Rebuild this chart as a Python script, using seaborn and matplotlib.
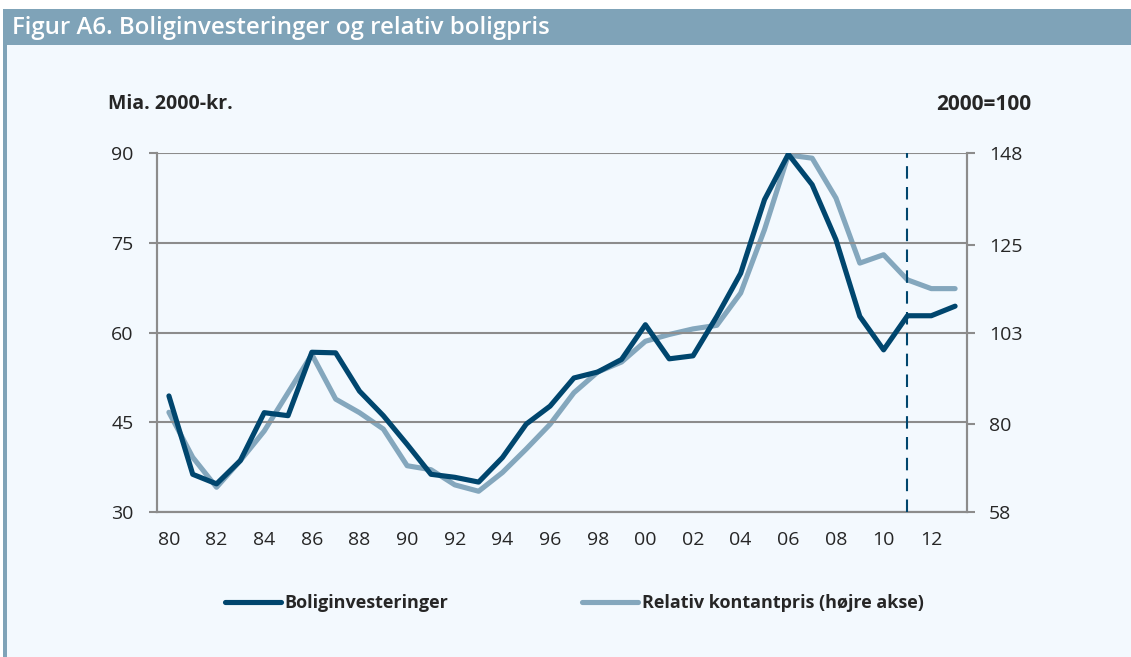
import matplotlib
matplotlib.use('Agg')
import matplotlib.pyplot as plt
import seaborn as sns
import pandas as pd
from matplotlib.patches import Rectangle
from matplotlib.lines import Line2D

years = list(range(1980, 2014))
invest = [49.4, 36.3, 34.7, 38.6, 46.6, 46.1, 56.7, 56.6, 50.2, 46.1,
          41.3, 36.3, 35.8, 35.0, 39.1, 44.7, 47.7, 52.4, 53.4, 55.5,
          61.3, 55.6, 56.1, 62.7, 69.9, 82.2, 89.8, 84.7, 75.5, 62.7,
          57.1, 62.8, 62.8, 64.4]
relpris = [83.0, 71.7, 64.2, 70.9, 78.3, 87.9, 97.5, 86.3, 82.9, 78.8,
           69.6, 68.6, 64.8, 63.2, 67.9, 73.8, 80.0, 87.9, 93.1, 95.6,
           100.8, 102.5, 103.9, 104.8, 112.9, 128.8, 147.5, 146.7, 136.7, 120.4,
           122.5, 116.2, 114.0, 114.0]
left_ticks = [30, 45, 60, 75, 90]
right_ticks = [58, 80, 103, 125, 148]
label_years = list(range(1980, 2014, 2))
x_labels = [str(y)[2:] for y in label_years]
prognose_start = 2011

dark = '#00466E'
light = '#84A7BD'
bar = '#7FA3B8'
bg = '#F3F9FE'
grid = '#8C8C8C'

df = pd.DataFrame({'year': years, 'invest': invest, 'relpris': relpris})

sns.set_style('white')
plt.rcParams['font.family'] = ['Open Sans', 'DejaVu Sans']

fig = plt.figure(figsize=(11.31, 6.57), dpi=100)
fig.patch.set_facecolor('white')
fig.patches.append(Rectangle((6 / 1131, 0), 1, 1 - 9 / 657, transform=fig.transFigure,
                             facecolor=bg, edgecolor='none', zorder=-3))
fig.patches.append(Rectangle((3 / 1131, 1 - 45 / 657), 1, 36 / 657, transform=fig.transFigure,
                             facecolor=bar, edgecolor='none', zorder=-2))
fig.patches.append(Rectangle((3 / 1131, 0), 4 / 1131, 1 - 9 / 657, transform=fig.transFigure,
                             facecolor=bar, edgecolor='none', zorder=-2))
fig.text(12 / 1131, 1 - 28 / 657, 'Figur A6. Boliginvesteringer og relativ boligpris',
         color='white', fontsize=17.3, fontweight='semibold', va='center', ha='left')

ax = fig.add_axes([157 / 1131, 1 - 512 / 657, 810 / 1131, 359 / 657])
ax.set_facecolor('none')
ax2 = ax.twinx()

sns.lineplot(data=df, x='year', y='invest', ax=ax, color=dark, lw=3.7, zorder=4)
sns.lineplot(data=df, x='year', y='relpris', ax=ax2, color=light, lw=3.7, zorder=3)
ax.set_zorder(ax2.get_zorder() + 1)
ax.patch.set_visible(False)

ax.set_xlim(1979.5, 2013.5)
ax.set_ylim(30, 90)
ax2.set_ylim(58, 148)
ax.set_yticks(left_ticks)
ax2.set_yticks(right_ticks)
ax.set_xticks(label_years)
ax.set_xticklabels(x_labels)
ax.set_xticks([y - 0.5 for y in years] + [2013.5], minor=True)
ax.tick_params(axis='x', which='major', length=0, pad=14, labelsize=14)
ax.tick_params(axis='x', which='minor', length=6, width=1.5, color=grid, direction='out')
ax.tick_params(axis='y', length=6, width=1.5, color=grid, labelsize=14, pad=11, left=True)
ax2.tick_params(axis='y', length=6, width=1.5, color=grid, labelsize=14, pad=10, right=True)
ax.set_xlabel('')
ax.set_ylabel('')
ax2.set_ylabel('')

ax.grid(axis='y', color=grid, lw=1.5)
for a in (ax, ax2):
    a.spines['top'].set_visible(False)
    for s in ['left', 'bottom', 'right']:
        a.spines[s].set_color(grid)
        a.spines[s].set_linewidth(1.5)

ax.plot([prognose_start, prognose_start], [30, 90], color=dark, lw=1.5,
        ls=(0, (6, 4)), zorder=5)

fig.text(108 / 1131, 1 - 104 / 657, 'Mia. 2000-kr.', fontsize=14, fontweight='bold',
         ha='left', va='center')
fig.text(1031 / 1131, 1 - 104 / 657, '2000=100', fontsize=15, fontweight='bold',
         ha='right', va='center')

handles = [Line2D([], [], color=dark, lw=3.7, solid_capstyle='round'),
           Line2D([], [], color=light, lw=3.7, solid_capstyle='round')]
fig.legend(handles, ['Boliginvesteringer', 'Relativ kontantpris (højre akse)'],
           loc='center left', bbox_to_anchor=(209 / 1131, 1 - 603 / 657), ncol=2,
           frameon=False, prop={'weight': 'bold', 'size': 13},
           handlelength=3.1, handletextpad=0.2, columnspacing=7.4)

fig.savefig('out.png', dpi=100, facecolor=fig.get_facecolor())
